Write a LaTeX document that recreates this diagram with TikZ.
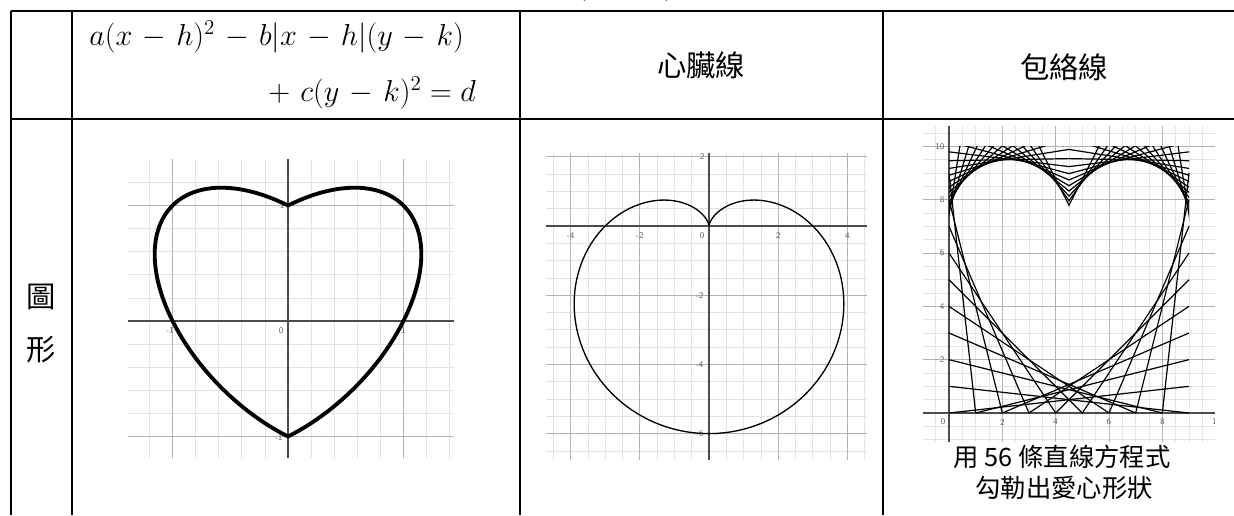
\documentclass[tikz,border=0pt]{standalone}
\usepackage{fontspec}
\usepackage{graphicx}
\newfontfamily\cjk{Noto Sans CJK TC}
\usetikzlibrary{calc}
\tikzset{
  rule/.style={line width=1.5pt},
  minorline/.style={black!11, line width=0.5pt},
  majorline/.style={black!30, line width=0.6pt},
  axisline/.style={black!70, line width=0.8pt},
  ticklabel/.style={font=\sffamily\fontsize{6.5}{6.5}\selectfont, text=black!60, inner sep=0pt},
  headtext/.style={font=\cjk\fontsize{22}{22}\selectfont, inner sep=0pt},
  captext/.style={font=\cjk\fontsize{19}{19}\selectfont, inner sep=0pt},
  eqtext/.style={inner sep=0pt},
  stringline/.style={line width=0.9pt},
}
\newsavebox\eqboxtop
\newsavebox\eqboxbot
\newlength\eqwd
\begin{document}
\sbox\eqboxtop{\fontsize{22}{22}\selectfont\medmuskip=6mu $a(x-h)^2-b|x-h|(y-k)$}
\sbox\eqboxbot{\fontsize{22}{22}\selectfont\medmuskip=6mu ${}+c(y-k)^2=d$}
\setlength\eqwd{\wd\eqboxtop}
\pgfmathsetmacro\eqscale{281/\eqwd}
\begin{tikzpicture}[x=0.75pt, y=-0.75pt]
  \useasboundingbox (0,0) rectangle (1234,515);
  % table rules
  \draw[rule] (11,11) -- (1234,11);
  \draw[rule] (11,119) -- (1234,119);
  \foreach \c in {11,72,520,883} {
    \draw[rule] (\c,11) -- (\c,515);
  }
  \node[anchor=south, headtext] (title) at (626,2) {(\hspace{58pt})};

  % header row
  \node[anchor=west, eqtext] (eqtop) at (89,37) {\scalebox{\eqscale}{\usebox\eqboxtop}};
  \node[anchor=east, eqtext] (eqbot) at (476,93) {\scalebox{\eqscale}{\usebox\eqboxbot}};
  \node[headtext] (cardhead) at (701,65) {心臟線};
  \node[headtext] (envhead) at (1064,67) {包絡線};
  \node[headtext] (figA) at (41,297) {圖};
  \node[headtext] (figB) at (41,350) {形};

  % heart curve
  \begin{scope}[shift={(288,321)}, x=86.6pt, y=86.6pt]
    \foreach \i in {-6,...,7} \draw[minorline] (\i/5,-1.19) -- (\i/5,1.40);
    \foreach \j in {-5,...,6} \draw[minorline] (-1.385,\j/5) -- (1.437,\j/5);
    \foreach \i in {-1,1} {
      \draw[majorline] (\i,-1.19) -- (\i,1.40);
      \draw[majorline] (-1.385,\i) -- (1.437,\i);
    }
    \draw[axisline] (-1.385,0) -- (1.437,0);
    \draw[axisline] (0,-1.19) -- (0,1.40);
    \node[ticklabel] (hxa) at (-1.02,-0.08) {-1};
    \node[ticklabel] (hxb) at (-0.06,-0.08) {0};
    \node[ticklabel] (hxc) at (1.0,-0.08) {1};
    \node[ticklabel] (hya) at (-0.05,1.0) {1};
    \node[ticklabel] (hyb) at (-0.08,-1.01) {-1};
    \draw[line width=2.9pt]
      plot[domain=-60:120, samples=90, smooth] ({cos(\x)+sin(\x)/sqrt(3)}, {cos(\x)-sin(\x)/sqrt(3)})
      -- plot[domain=120:-60, samples=90, smooth] ({-cos(\x)-sin(\x)/sqrt(3)}, {cos(\x)-sin(\x)/sqrt(3)})
      -- cycle;
  \end{scope}

  % cardioid
  \begin{scope}[shift={(709,226)}, x=25.95pt, y=25.95pt]
    \foreach \i in {-9,...,9} \draw[minorline] (\i/2,-6.76) -- (\i/2,2.11);
    \foreach \j in {-13,...,4} \draw[minorline] (-4.71,\j/2) -- (4.57,\j/2);
    \foreach \i in {-4,-2,2,4} \draw[majorline] (\i,-6.76) -- (\i,2.11);
    \foreach \j in {-6,-4,-2,2} \draw[majorline] (-4.71,\j) -- (4.57,\j);
    \draw[axisline] (-4.71,0) -- (4.57,0);
    \draw[axisline] (0,-6.76) -- (0,2.11);
    \foreach \v/\n in {-4/ca,-2/cb,2/cc,4/cd} \node[ticklabel] (x\n) at (\v,-0.29) {\v};
    \node[ticklabel] (xce) at (-0.2,-0.29) {0};
    \node[ticklabel] (yca) at (-0.2,2) {2};
    \foreach \v/\n in {-2/cb,-4/cc,-6/cd} \node[ticklabel] (y\n) at (-0.27,\v) {\v};
    \draw[line width=1pt] plot[domain=-90:270, samples=181, smooth]
      ({3*(1-sin(\x))*cos(\x)}, {3*(1-sin(\x))*sin(\x)});
  \end{scope}

  % envelope of lines
  \begin{scope}[shift={(949,413)}, x=20pt, y=20pt]
    \foreach \i in {-1,...,19} \draw[minorline] (\i/2,-1.09) -- (\i/2,10.75);
    \foreach \j in {-2,...,21} \draw[minorline] (-0.97,\j/2) -- (9.96,\j/2);
    \foreach \i in {2,4,6,8} \draw[majorline] (\i,-1.09) -- (\i,10.75);
    \foreach \j in {2,4,6,8,10} \draw[majorline] (-0.97,\j) -- (9.96,\j);
    \draw[axisline] (-0.97,0) -- (9.96,0);
    \draw[axisline] (0,-1.09) -- (0,10.75);
    \foreach \v/\n in {2/ea,4/eb,6/ec,8/ed} {
      \node[ticklabel] (x\n) at (\v,-0.34) {\v};
      \node[ticklabel] (y\n) at (-0.26,\v) {\v};
    }
    \node[ticklabel] (xee) at (-0.22,-0.34) {0};
    \node[ticklabel] (yee) at (-0.34,10) {10};
    \begin{scope}
      \clip (-1,-1.09) rectangle (9.96,10.75);
      \node[ticklabel] (xef) at (10.05,-0.34) {10};
    \end{scope}
    \foreach \k in {1,...,9} {
      \draw[stringline] (0,\k) -- ({10-\k},0);
      \draw[stringline] (9,\k) -- ({\k-1},0);
    }
    \begin{scope}
      \clip (0,0) rectangle (4.5,10);
      \foreach \t in {27,35,...,171}
        \draw[stringline] ($(2.25,7.25)+(\t:2.25)+(\t+90:12)$) -- ($(2.25,7.25)+(\t:2.25)+(\t-90:12)$);
    \end{scope}
    \begin{scope}
      \clip (4.5,0) rectangle (9,10);
      \foreach \t in {27,35,...,171}
        \draw[stringline] ($(6.75,7.25)+(180-\t:2.25)+(90-\t:12)$) -- ($(6.75,7.25)+(180-\t:2.25)+(270-\t:12)$);
    \end{scope}
  \end{scope}
  \node[captext] (capA) at (1062,457) {用 56 條直線方程式};
  \node[captext] (capB) at (1064,488) {勾勒出愛心形狀};
\end{tikzpicture}
\end{document}
